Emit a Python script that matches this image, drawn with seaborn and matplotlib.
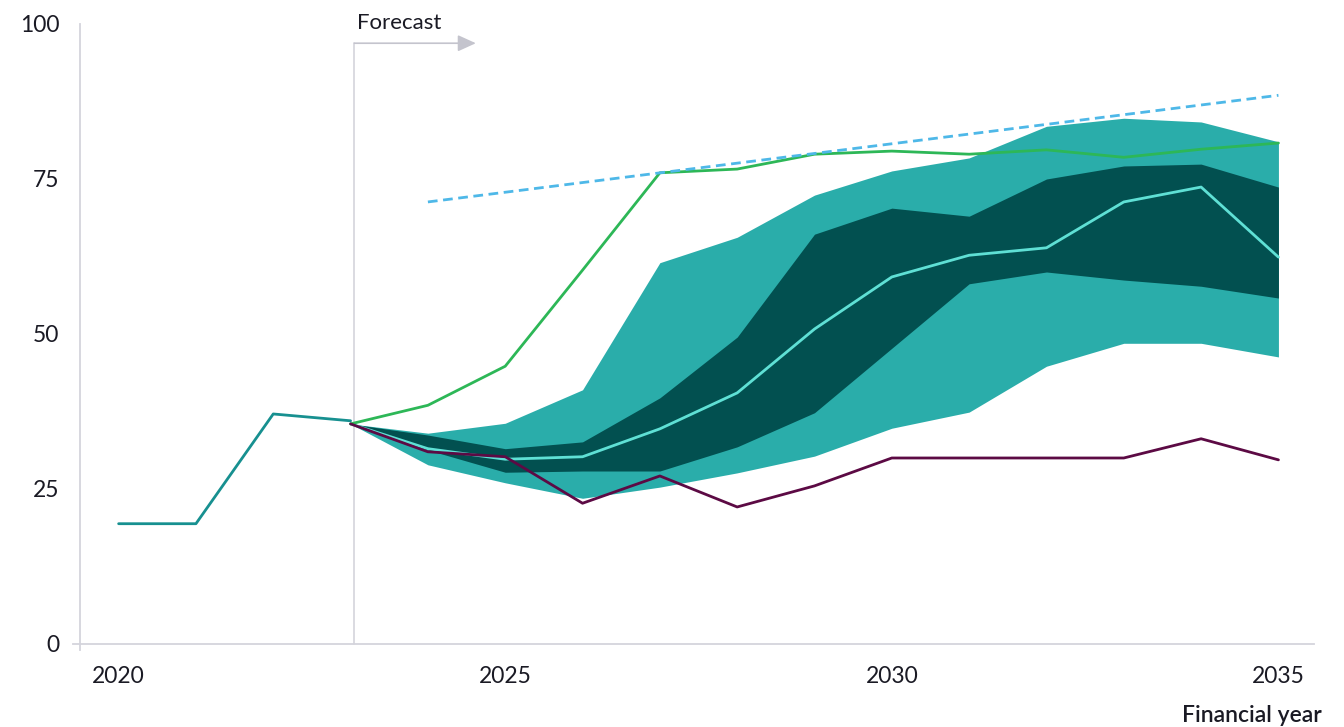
import matplotlib.pyplot as plt
import numpy as np
import pandas as pd
import seaborn as sns

# historical series
hist_years = [2020, 2021, 2022, 2023]
hist_vals = [19.4, 19.4, 37.1, 36.0]

# forecast series
fc_years = list(range(2023, 2036))
outer_hi = [35.5, 34.0, 35.6, 41.0, 61.5, 65.6, 72.4, 76.3, 78.4, 83.5, 84.8, 84.2, 81.0]
outer_lo = [35.5, 28.9, 26.0, 23.5, 25.3, 27.6, 30.3, 34.8, 37.4, 44.8, 48.5, 48.5, 46.3]
inner_hi = [35.5, 33.7, 31.5, 32.6, 39.7, 49.5, 66.1, 70.3, 69.0, 75.0, 77.1, 77.4, 73.7]
inner_lo = [35.5, 31.3, 27.7, 27.9, 27.9, 31.8, 37.3, 47.7, 58.1, 60.0, 58.7, 57.7, 55.8]
median = [35.5, 31.5, 29.8, 30.2, 34.7, 40.5, 50.8, 59.2, 62.7, 63.9, 71.3, 73.7, 62.4]
green = [35.5, 38.5, 44.8, 60.3, 76.0, 76.6, 79.0, 79.5, 79.0, 79.7, 78.5, 79.8, 80.8]
purple = [35.5, 31.0, 30.2, 22.7, 27.1, 22.1, 25.5, 30.0, 30.0, 30.0, 30.0, 33.1, 29.7]

target_years = [2024, 2035]
target_vals = [71.3, 88.5]

xtick_labels = ["2020", "2025", "2030", "2035"]
ytick_vals = [0, 25, 50, 75, 100]

sns.set_style("white")
plt.rcParams['font.family'] = ['Lato', 'DejaVu Sans']

fig = plt.figure(figsize=(13.44, 7.27), dpi=100)
ax = fig.add_axes([73 / 1344, 1 - 650 / 727, (1314 - 73) / 1344, (650 - 24) / 727])

grey = "#D4D4DC"

# bands
ax.fill_between(fc_years, outer_lo, outer_hi, color="#2AADAA", lw=0, zorder=1)
ax.fill_between(fc_years, inner_lo, inner_hi, color="#025050", lw=0, zorder=2)

df_fc = pd.DataFrame({"year": fc_years, "median": median, "green": green, "purple": purple})
sns.lineplot(data=df_fc, x="year", y="median", ax=ax, color="#5FE0D5", lw=2, zorder=3)
sns.lineplot(data=df_fc, x="year", y="green", ax=ax, color="#2DB757", lw=2, zorder=3)
sns.lineplot(data=df_fc, x="year", y="purple", ax=ax, color="#5C0A44", lw=2, zorder=4)
sns.lineplot(x=hist_years, y=hist_vals, ax=ax, color="#179090", lw=2, zorder=3)
ax.plot(target_years, target_vals, color="#4EB8E8", lw=2, ls=(0, (3.5, 2)), zorder=3)

# forecast marker
ax.plot([2023.05, 2023.05], [0, 96.9], color=grey, lw=1.2, zorder=0)
ax.annotate("", xy=(2024.62, 96.9), xytext=(2023.05, 96.9),
            arrowprops=dict(arrowstyle="-|>,head_length=1.1,head_width=0.5",
                            color="#C4C4CD", lw=1.2, shrinkA=0, shrinkB=0))
ax.text(2023.08, 98.5, "Forecast", fontsize=16, color="#1A1A24", ha="left", va="bottom")

ax.set_xlim(2019.41, 2035.46)
ax.set_ylim(-0.97, 100)

for s in ["top", "right"]:
    ax.spines[s].set_visible(False)
ax.spines["left"].set_position(("data", 2019.5))
ax.spines["bottom"].set_position(("data", 0))
ax.spines["left"].set_color(grey)
ax.spines["bottom"].set_color(grey)
ax.spines["left"].set_linewidth(1.3)
ax.spines["bottom"].set_linewidth(1.3)

ax.set_yticks(ytick_vals)
ax.set_yticklabels([str(v) for v in ytick_vals])
ax.set_xticks([2024.5, 2029.5, 2034.5])
ax.set_xticklabels([])
ax.set_xticks([2020, 2025, 2030, 2035], minor=True)
ax.set_xticklabels(xtick_labels, minor=True)
ax.tick_params(axis="y", direction="inout", length=10, width=1, color=grey,
               labelsize=16.5, labelcolor="#1A1A24", pad=10)
ax.tick_params(axis="x", which="major", direction="inout", length=11, width=1, color=grey)
ax.tick_params(axis="x", which="minor", length=0, labelsize=16.5, labelcolor="#1A1A24", pad=16)
ax.set_xlabel("")
ax.set_ylabel("")

fig.text(1322 / 1344, 1 - 716 / 727, "Financial year", fontsize=16.5, fontweight="semibold",
         color="#1A1A24", ha="right", va="center")

fig.savefig("out.png", dpi=100)
